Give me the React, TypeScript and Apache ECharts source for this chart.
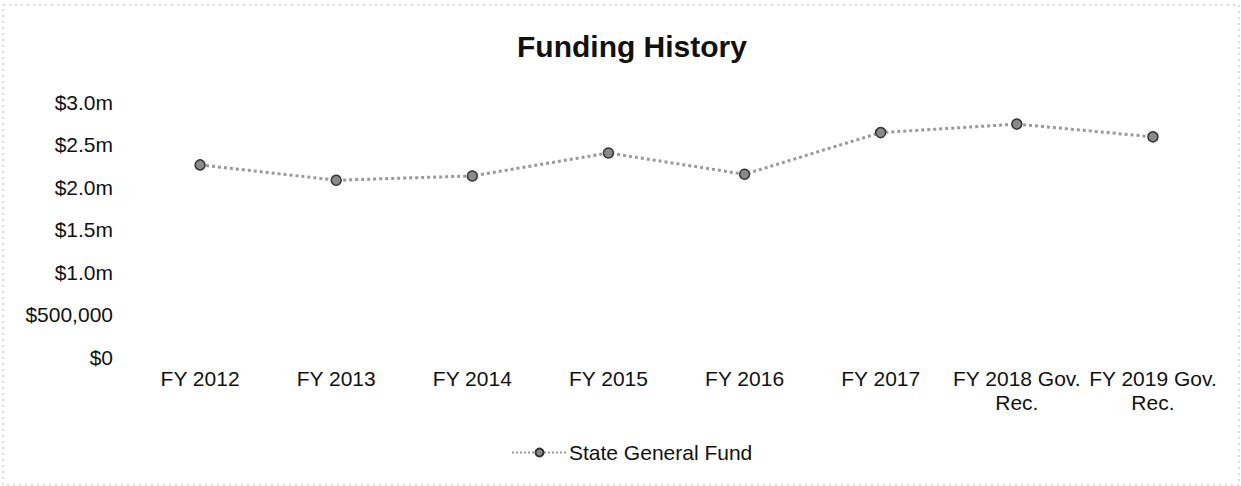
import React, { useEffect, useRef } from "react";
import * as echarts from "echarts";

const title = "Funding History";
const categories = [
  "FY 2012",
  "FY 2013",
  "FY 2014",
  "FY 2015",
  "FY 2016",
  "FY 2017",
  "FY 2018 Gov. Rec.",
  "FY 2019 Gov. Rec.",
];
const seriesName = "State General Fund";
const stateGeneralFund = [2260000, 2080000, 2130000, 2400000, 2150000, 2640000, 2740000, 2590000];
const yMin = 0;
const yMax = 3000000;
const yInterval = 500000;

function fmtY(v: number): string {
  if (v === 0) return "$0";
  if (v < 1000000) return "$" + v.toLocaleString("en-US");
  return "$" + (v / 1000000).toFixed(1) + "m";
}

export default function App() {
  const ref = useRef<HTMLDivElement>(null);
  useEffect(() => {
    if (!ref.current) return;
    const chart = echarts.init(ref.current, undefined, { renderer: "svg" });
    const font = "'Liberation Sans', Arial, sans-serif";
    chart.setOption({
      animation: false,
      backgroundColor: "#ffffff",
      textStyle: { fontFamily: font },
      title: {
        text: title,
        left: 512,
        top: 26,
        textStyle: { fontSize: 30, fontWeight: "bold", color: "#111", fontFamily: font },
      },
      legend: {
        data: [seriesName],
        top: 437,
        left: 506,
        itemWidth: 55,
        itemHeight: 10,
        itemGap: 10,
        textStyle: { fontSize: 21, color: "#111", fontFamily: font, padding: [0, 0, 0, -3] },
      },
      grid: { left: 132, right: 20, top: 102, bottom: 129, containLabel: false },
      xAxis: {
        type: "category",
        data: categories,
        boundaryGap: true,
        axisLine: { show: false },
        axisTick: { show: false },
        axisLabel: {
          interval: 0,
          margin: 9,
          fontSize: 21,
          color: "#111",
          lineHeight: 24,
          formatter: (v: string) => v.replace(" Rec.", "\nRec."),
        },
      },
      yAxis: {
        type: "value",
        min: yMin,
        max: yMax,
        interval: yInterval,
        axisLine: { show: false },
        axisTick: { show: false },
        splitLine: { show: false },
        axisLabel: { fontSize: 21, color: "#111", margin: 19, formatter: fmtY },
      },
      series: [
        {
          name: seriesName,
          type: "line",
          data: stateGeneralFund,
          symbol: "circle",
          symbolSize: 10,
          lineStyle: { color: "#9a9a9a", width: 3, type: "dotted" },
          itemStyle: { color: "#8a8a8a", borderColor: "#333", borderWidth: 1.5 },
        },
      ],
      graphic: [
        {
          type: "rect",
          shape: { x: 3, y: 5, width: 1236, height: 480 },
          style: { fill: "none", stroke: "#bbb", lineWidth: 1, lineDash: [2, 4] },
        },
      ],
    });
    return () => chart.dispose();
  }, []);
  return (
    <div
      ref={ref}
      style={{ position: "absolute", left: 0, top: 0, width: 1241, height: 486 }}
    />
  );
}
